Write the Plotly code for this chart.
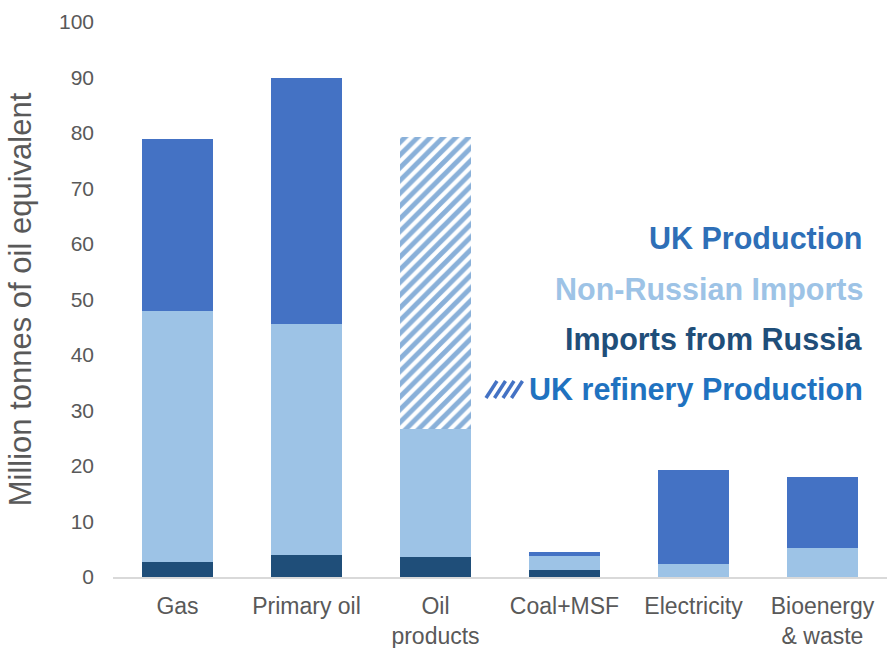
import plotly.graph_objects as go

categories = ["Gas", "Primary oil", "Oil<br>products", "Coal+MSF", "Electricity", "Bioenergy<br>& waste"]
imports_russia = [2.7, 4.0, 3.6, 1.3, 0.0, 0.0]
non_russian_imports = [45.2, 41.5, 23.1, 2.5, 2.3, 5.2]
uk_production = [31.1, 44.4, 0.0, 0.7, 16.9, 12.8]
uk_refinery = [0.0, 0.0, 52.6, 0.0, 0.0, 0.0]

C_RUSSIA = "#1F4E79"
C_NONRU = "#9DC3E6"
C_UKPROD = "#4472C4"
C_HATCH = "#1462B3"
GREY = "#595959"

fig = go.Figure()
fig.add_trace(go.Bar(x=categories, y=imports_russia, name="Imports from Russia",
                     marker=dict(color=C_RUSSIA, line=dict(width=0))))
fig.add_trace(go.Bar(x=categories, y=non_russian_imports, name="Non-Russian Imports",
                     marker=dict(color=C_NONRU, line=dict(width=0))))
fig.add_trace(go.Bar(x=categories, y=uk_production, name="UK Production",
                     marker=dict(color=C_UKPROD, line=dict(width=0))))
fig.add_trace(go.Bar(x=categories, y=uk_refinery, name="UK refinery Production",
                     marker=dict(color="white", line=dict(width=0),
                                 pattern=dict(shape="/", fgcolor=C_HATCH, bgcolor="white",
                                              size=9, solidity=0.55, fillmode="overlay"))))

L, R, T, B = 113, 3, 22, 71
W, H = 890, 648
pw = W - L - R
ph = H - T - B

def px_x(px):
    return (px - L) / pw

def px_y(py):
    return (H - B - py) / ph * 100

legend_items = [
    ("UK Production", "#2E6FB7", 238),
    ("Non-Russian Imports", "#9DC3E6", 289),
    ("Imports from Russia", "#1F4E79", 339),
    ("UK refinery Production", "#1F72C0", 389),
]
annotations = []
for text, col, py in legend_items:
    annotations.append(dict(text="<b>%s</b>" % text, x=px_x(865), xref="paper", xanchor="right",
                            y=px_y(py), yref="y", yanchor="middle", showarrow=False,
                            font=dict(family="Liberation Sans, Arial", size=30.5, color=col)))

shapes = []
for i in range(4):
    x0 = 486 + i * 8.5
    shapes.append(dict(type="line", xref="paper", yref="y",
                       x0=px_x(x0), y0=px_y(398), x1=px_x(x0 + 11), y1=px_y(381),
                       line=dict(color="#4472C4", width=3.5)))

fig.update_layout(
    width=W, height=H,
    margin=dict(l=L, r=R, t=T, b=B, autoexpand=False),
    paper_bgcolor="white", plot_bgcolor="white",
    barmode="stack", bargap=0.45,
    showlegend=False,
    font=dict(family="Liberation Sans, Arial", color=GREY),
    annotations=annotations,
    shapes=shapes,
    xaxis=dict(showline=True, linecolor="#D9D9D9", linewidth=2, ticks="",
               tickfont=dict(size=23, color=GREY), showgrid=False, automargin=False,
               ticklabelstandoff=7),
    yaxis=dict(range=[0, 100], dtick=10, showgrid=False, showline=False, zeroline=False,
               ticks="", tickfont=dict(size=21, color=GREY), ticklabelstandoff=18,
               automargin=False,
               title=dict(text="Million tonnes of oil equivalent", standoff=18,
                          font=dict(size=31, color=GREY))),
)

fig.write_html("out.html", config={"displayModeBar": False},
               post_script="document.body.style.margin='0px';")
